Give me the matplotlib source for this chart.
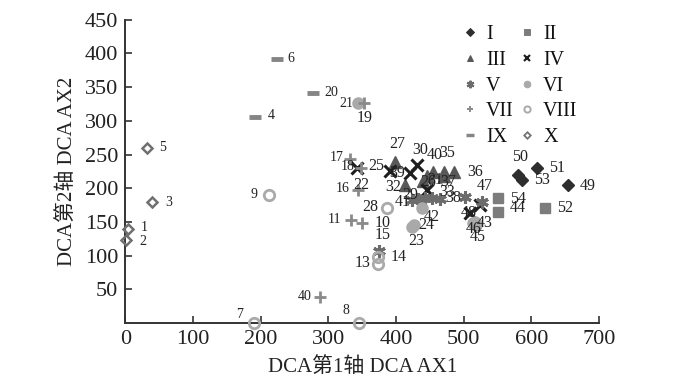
import matplotlib
matplotlib.use("Agg")
import matplotlib.pyplot as plt
from matplotlib.lines import Line2D

# ---------------- data ----------------
group_names = ["I", "II", "III", "IV", "V", "VI", "VII", "VIII", "IX", "X"]

point_labels = ["1", "2", "3", "5",
                "4", "6", "20",
                "7", "8", "9", "13", "14", "28",
                "10", "11", "16", "17", "19", "22", "40",
                "21", "23", "24", "42", "43", "45", "46",
                "15", "29", "41", "33", "", "", "38", "47",
                "18", "25", "39", "30", "", "48", "",
                "27", "32", "26", "31", "40", "35", "36", "37",
                "54", "44", "52",
                "50", "53", "51", "49"]
point_group = ["X", "X", "X", "X",
               "IX", "IX", "IX",
               "VIII", "VIII", "VIII", "VIII", "VIII", "VIII",
               "VII", "VII", "VII", "VII", "VII", "VII", "VII",
               "VI", "VI", "VI", "VI", "VI", "VI", "VI",
               "V", "V", "V", "V", "V", "V", "V", "V",
               "IV", "IV", "IV", "IV", "IV", "IV", "IV",
               "III", "III", "III", "III", "III", "III", "III", "III",
               "II", "II", "II",
               "I", "I", "I", "I"]
point_x = [4, 1, 40, 32,
           192, 224, 277,
           190, 345, 213, 373, 374, 386,
           350, 333, 344, 332, 353, 349, 287,
           344, 424, 426, 439, 517, 518, 514,
           375, 433, 423, 465, 443, 453, 502, 527,
           343, 391, 421, 431, 446, 510, 524,
           399, 413, 440, 446, 455, 471, 485, 471,
           551, 551, 620,
           580, 586, 609, 654]
point_y = [140, 123, 179, 260,
           305, 392, 341,
           0, 0, 190, 88, 98, 171,
           149, 153, 197, 244, 326, 230, 39,
           326, 143, 146, 170, 150, 145, 148,
           107, 184, 182, 184, 185, 186, 187, 179,
           230, 225, 222, 234, 197, 163, 175,
           239, 205, 211, 218, 224, 224, 224, 218,
           186, 165, 170,
           220, 212, 230, 205]

x_ticks = [0, 100, 200, 300, 400, 500, 600, 700]
y_ticks = [50, 100, 150, 200, 250, 300, 350, 400, 450]

# ---------------- layout / style ----------------
label_offsets = [(16, 1), (17, -1), (16, 0), (16, 0),
                 (16, 2), (14, 0), (19, 1),
                 (-14, 8), (-13, 12), (-15, 0), (-15, 1), (20, 0), (-16, 1),
                 (20, 0), (-16, 0), (-15, 2), (-13, 1), (0, -15), (0, -17), (-15, 0),
                 (-12, 0), (4, -14), (13, 0), (9, -9), (10, -1), (2, -12), (1, -6),
                 (4, 16), (-8, 4), (-9, -2), (7, 7), (0, 0), (0, 0), (-12, -1), (3, 16),
                 (-10, 1), (-14, 5), (-13, 0), (3, 15), (0, 0), (-2, 0), (0, 0),
                 (2, 18), (-12, -2), (5, -1), (8, -4), (2, 17), (3, 19), (22, 0), (4, -6),
                 (20, -1), (20, 4), (20, 0),
                 (2, 18), (20, 0), (20, 0), (20, -1)]

styles = {
    "I":    dict(marker="D", color="#2e2e2e", ms=6.5, mfc="#2e2e2e", mew=1),
    "II":   dict(marker="s", color="#7c7c7c", ms=7.5, mfc="#7c7c7c", mew=1),
    "III":  dict(marker="^", color="#585858", ms=8, mfc="#585858", mew=1),
    "IV":   dict(marker="x", color="#1e1e1e", ms=8, mfc="#1e1e1e", mew=2.2),
    "V":    dict(marker=(6, 2, 0), color="#6c6c6c", ms=9, mfc="#6c6c6c", mew=2.2),
    "VI":   dict(marker="o", color="#a9a9a9", ms=8, mfc="#a9a9a9", mew=1),
    "VII":  dict(marker="+", color="#8a8a8a", ms=8, mfc="#8a8a8a", mew=2),
    "VIII": dict(marker="o", color="#aaaaaa", ms=7.5, mfc="none", mew=2),
    "IX":   dict(marker="_", color="#858585", ms=9, mfc="#858585", mew=3.5),
    "X":    dict(marker="D", color="#707070", ms=5.5, mfc="none", mew=1.8),
}

serif_cjk = ["Liberation Serif", "Noto Sans CJK SC"]
plt.rcParams["font.family"] = serif_cjk

fig = plt.figure(figsize=(7.0, 3.79), dpi=100)
ax = fig.add_axes([125.3 / 700, 1 - 323 / 379, (599 - 125.3) / 700, (323 - 19.7) / 379])

for g in group_names:
    xs = [x for x, gg in zip(point_x, point_group) if gg == g]
    ys = [y for y, gg in zip(point_y, point_group) if gg == g]
    st = styles[g]
    ax.plot(xs, ys, linestyle="none", marker=st["marker"], color=st["color"],
            markersize=st["ms"], markerfacecolor=st["mfc"], markeredgewidth=st["mew"],
            clip_on=False, zorder=3)

for lab, x, y, off in zip(point_labels, point_x, point_y, label_offsets):
    if not lab:
        continue
    fs = 10 if x < 346 else 11.5
    ax.annotate(lab, (x, y), xytext=off, textcoords="offset pixels",
                ha="center", va="center", fontsize=fs, color="#222222",
                family="Liberation Serif", zorder=4)

ax.set_xlim(0, 700)
ax.set_ylim(0, 450)
ax.set_xticks(x_ticks)
ax.set_yticks(y_ticks)
ax.tick_params(direction="in", length=5, width=1.2, colors="#333333",
               labelsize=16, labelcolor="#222222")
ax.tick_params(axis="x", pad=5)
ax.tick_params(axis="y", pad=5)
for s in ["top", "right"]:
    ax.spines[s].set_visible(False)
for s in ["left", "bottom"]:
    ax.spines[s].set_linewidth(1.4)
    ax.spines[s].set_color("#333333")

ax.set_xlabel("DCA第1轴 DCA AX1", fontsize=15, color="#222222", labelpad=6)
ax.set_ylabel("DCA第2轴 DCA AX2", fontsize=15, color="#222222", labelpad=6)

legend_order = ["I", "III", "V", "VII", "IX", "II", "IV", "VI", "VIII", "X"]
handles = []
for g in legend_order:
    st = styles[g]
    handles.append(Line2D([], [], linestyle="none", marker=st["marker"], color=st["color"],
                          markersize=st["ms"] * 0.6, markerfacecolor=st["mfc"],
                          markeredgewidth=st["mew"] * 0.7, label=g))
leg = ax.legend(handles=handles, ncol=2, frameon=False, loc="upper left",
                bbox_to_anchor=(454 / 700, 1 - 17 / 379), bbox_transform=fig.transFigure,
                fontsize=14.5, handlelength=0.8, handletextpad=0.4, columnspacing=0.25,
                labelspacing=0.33, borderaxespad=0)
for t in leg.get_texts():
    t.set_color("#111111")

fig.savefig("out.png", dpi=100)
